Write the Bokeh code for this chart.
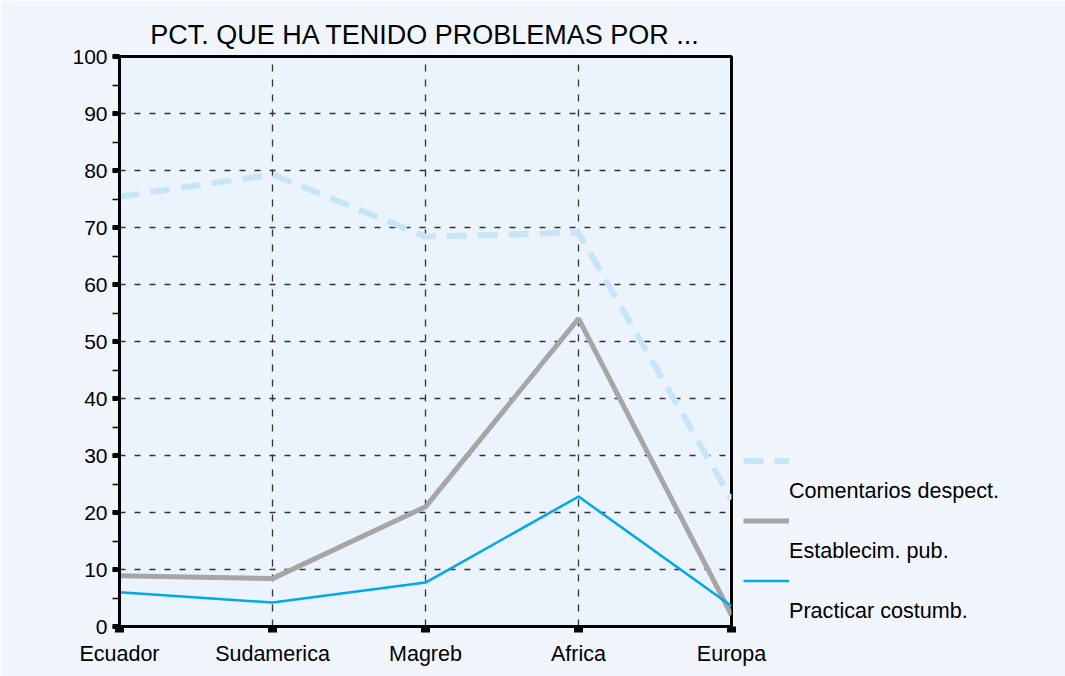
from bokeh.plotting import figure
from bokeh.models import (FixedTicker, SingleIntervalTicker, Range1d, Legend, LegendItem,
                          ColumnDataSource)
from bokeh.embed import file_html
from bokeh.resources import INLINE

# ---- data ----
categories = ["Ecuador", "Sudamerica", "Magreb", "Africa", "Europa"]
comentarios = [75.4, 79.3, 68.4, 69.1, 22.3]
establecim = [8.9, 8.4, 21.0, 54.0, 2.0]
practicar = [6.0, 4.2, 7.7, 22.8, 3.6]
series_names = ["Comentarios despect.", "Establecim. pub.", "Practicar costumb."]
y_ticks = list(range(0, 101, 10))
title_text = "PCT. QUE HA TENIDO PROBLEMAS POR ..."

xs = list(range(len(categories)))
FONT = "Liberation Sans"

p = figure(frame_width=612, frame_height=570,
           min_border_left=119, min_border_top=56, min_border_bottom=50, min_border_right=10,
           x_range=Range1d(0, len(categories) - 1), y_range=Range1d(0, 100),
           output_backend="svg", toolbar_location=None,
           background_fill_color="#EBF3FC", border_fill_color="#F1F6FD")

p.title.text = title_text
p.title.align = "center"
p.title.text_font = FONT
p.title.text_font_size = "27px"
p.title.text_font_style = "normal"
p.title.text_color = "black"
p.title.standoff = 13

p.outline_line_color = "black"
p.outline_line_width = 3
p.outline_line_alpha = 1

# x axis
xa = p.xaxis[0]
xa.ticker = FixedTicker(ticks=xs)
xa.major_label_overrides = {i: c for i, c in enumerate(categories)}
xa.axis_line_width = 3
xa.axis_line_color = "black"
xa.major_tick_in = 0
xa.major_tick_out = 6
xa.major_tick_line_width = 9
xa.major_tick_line_color = "black"
xa.minor_tick_line_color = None
xa.major_label_standoff = 9
xa.major_label_text_font = FONT
xa.major_label_text_font_size = "21.5px"
xa.major_label_text_color = "black"

# y axis
ya = p.yaxis[0]
ya.ticker = SingleIntervalTicker(interval=10, num_minor_ticks=2)
ya.axis_line_width = 3
ya.axis_line_color = "black"
ya.major_tick_in = 0
ya.major_tick_out = 7
ya.major_tick_line_width = 5
ya.major_tick_line_color = "black"
ya.minor_tick_in = 0
ya.minor_tick_out = 7
ya.minor_tick_line_width = 1.5
ya.minor_tick_line_color = "black"
ya.major_label_standoff = 5
ya.major_label_text_font = FONT
ya.major_label_text_font_size = "21px"
ya.major_label_text_color = "black"

# grids
p.xgrid.ticker = FixedTicker(ticks=xs[1:-1])
p.xgrid.grid_line_color = "#333333"
p.xgrid.grid_line_width = 1.3
p.xgrid.grid_line_dash = "7 8"
p.ygrid.ticker = FixedTicker(ticks=y_ticks[1:-1])
p.ygrid.grid_line_color = "#333333"
p.ygrid.grid_line_width = 1.3
p.ygrid.grid_line_dash = "6 9"

src = ColumnDataSource(dict(x=xs, c=comentarios, e=establecim, pr=practicar))

r1 = p.line("x", "c", source=src, line_color="#C8E4F8", line_width=6, line_dash="20 11")
r2 = p.line("x", "e", source=src, line_color="#A6A6A6", line_width=5)
r3 = p.line("x", "pr", source=src, line_color="#00A8EC", line_width=2.5)

# invisible renderers to carry the label rows (label under each swatch)
blank = ColumnDataSource(dict(x=[], y=[]))
d1 = p.line("x", "y", source=blank, line_alpha=0)
d2 = p.line("x", "y", source=blank, line_alpha=0)
d3 = p.line("x", "y", source=blank, line_alpha=0)

items = [
    LegendItem(label=" ", renderers=[r1]),
    LegendItem(label=series_names[0], renderers=[d1]),
    LegendItem(label=" ", renderers=[r2]),
    LegendItem(label=series_names[1], renderers=[d2]),
    LegendItem(label=" ", renderers=[r3]),
    LegendItem(label=series_names[2], renderers=[d3]),
]
legend = Legend(items=items, location=(12, 2), margin=0, padding=0,
                glyph_width=46, glyph_height=27, label_height=27, spacing=3,
                label_standoff=0, label_text_font=FONT, label_text_font_size="21.6px",
                label_text_color="black", background_fill_alpha=0,
                border_line_color=None)
p.add_layout(legend, "right")

open("out.html", "w").write(file_html(p, INLINE))
